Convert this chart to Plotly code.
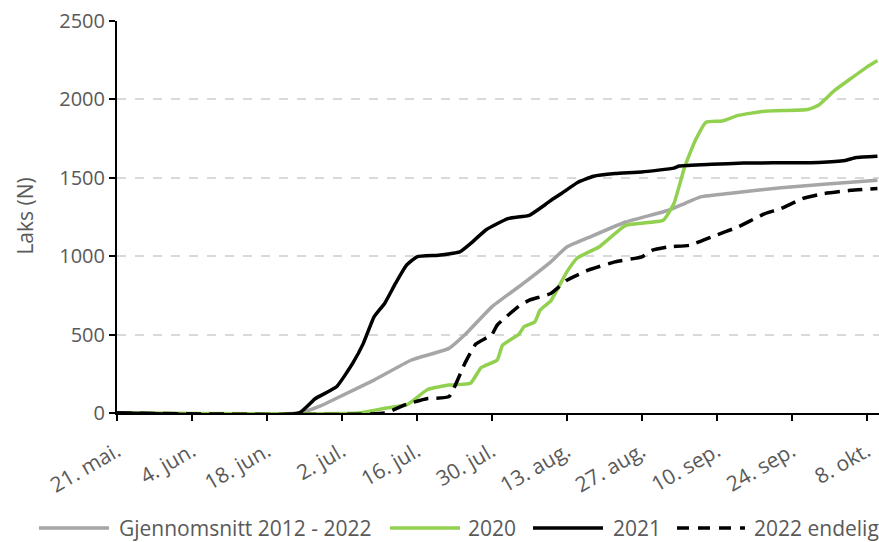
import plotly.graph_objects as go

# Average 2012-2022
avg_dates = ["2022-05-21", "2022-06-24", "2022-06-28", "2022-07-01", "2022-07-08", "2022-07-15",
             "2022-07-22", "2022-07-25", "2022-07-30", "2022-08-05", "2022-08-10", "2022-08-13",
             "2022-08-17", "2022-08-24", "2022-09-01", "2022-09-04", "2022-09-07", "2022-09-13",
             "2022-09-22", "2022-09-30", "2022-10-10"]
avg_vals = [0, 0, 45, 94, 210, 338, 412, 500, 677, 830, 964, 1059, 1118, 1218, 1293, 1336, 1378,
            1403, 1437, 1459, 1484]

# 2020
y2020_dates = ["2022-05-21", "2022-07-05", "2022-07-10", "2022-07-14", "2022-07-15", "2022-07-18",
               "2022-07-22", "2022-07-26", "2022-07-28", "2022-07-31", "2022-08-01", "2022-08-04",
               "2022-08-05", "2022-08-07", "2022-08-08", "2022-08-10", "2022-08-13", "2022-08-15",
               "2022-08-19", "2022-08-24", "2022-08-31", "2022-09-02", "2022-09-04", "2022-09-06",
               "2022-09-08", "2022-09-11", "2022-09-14", "2022-09-19", "2022-09-27", "2022-09-29",
               "2022-10-02", "2022-10-05", "2022-10-08", "2022-10-10"]
y2020_vals = [0, 0, 30, 51, 72, 150, 178, 189, 290, 338, 433, 500, 550, 580, 656, 715, 900, 990,
              1059, 1197, 1229, 1336, 1569, 1739, 1855, 1862, 1898, 1925, 1936, 1962, 2057, 2132,
              2206, 2248]

# 2021
y2021_dates = ["2022-05-21", "2022-06-24", "2022-06-27", "2022-07-01", "2022-07-04", "2022-07-06",
               "2022-07-08", "2022-07-10", "2022-07-12", "2022-07-14", "2022-07-16", "2022-07-20",
               "2022-07-24", "2022-07-26", "2022-07-29", "2022-08-02", "2022-08-06", "2022-08-09",
               "2022-08-10", "2022-08-12", "2022-08-15", "2022-08-18", "2022-08-22", "2022-08-27",
               "2022-09-02", "2022-09-03", "2022-09-09", "2022-09-15", "2022-09-29", "2022-10-04",
               "2022-10-06", "2022-10-10"]
y2021_vals = [0, 0, 91, 167, 316, 444, 613, 700, 826, 940, 996, 1006, 1027, 1080, 1170, 1240, 1261,
              1330, 1355, 1400, 1470, 1510, 1527, 1537, 1562, 1575, 1586, 1594, 1598, 1611, 1629, 1637]

# 2022 final
y2022_dates = ["2022-05-21", "2022-07-10", "2022-07-14", "2022-07-18", "2022-07-22", "2022-07-25",
               "2022-07-27", "2022-07-30", "2022-07-31", "2022-08-04", "2022-08-06", "2022-08-10",
               "2022-08-13", "2022-08-17", "2022-08-22", "2022-08-27", "2022-08-29", "2022-09-01",
               "2022-09-05", "2022-09-09", "2022-09-14", "2022-09-19", "2022-09-22", "2022-09-26",
               "2022-09-30", "2022-10-05", "2022-10-10"]
y2022_vals = [0, 0, 55, 92, 104, 320, 440, 500, 561, 680, 720, 762, 847, 911, 964, 996, 1038, 1059,
              1070, 1123, 1187, 1272, 1304, 1367, 1399, 1420, 1431]

tick_dates = ["2022-05-21", "2022-06-04", "2022-06-18", "2022-07-02", "2022-07-16", "2022-07-30",
              "2022-08-13", "2022-08-27", "2022-09-10", "2022-09-24", "2022-10-08"]
tick_labels = ["21. mai.", "4. jun.", "18. jun.", "2. jul.", "16. jul.", "30. jul.", "13. aug.",
               "27. aug.", "10. sep.", "24. sep.", "8. okt."]
y_ticks = [0, 500, 1000, 1500, 2000, 2500]

series_names = ["Gjennomsnitt 2012 - 2022", "2020", "2021", "2022 endelig"]
series_colors = ["#a6a6a6", "#92d050", "#000000", "#000000"]
series_dash = ["solid", "solid", "solid", "15px,8px"]

FONT = "Open Sans"
TXT = "#595959"
LW = 3.5

data = [(avg_dates, avg_vals), (y2020_dates, y2020_vals), (y2021_dates, y2021_vals),
        (y2022_dates, y2022_vals)]

fig = go.Figure()
for (xs, ys), name, col, dash in zip(data, series_names, series_colors, series_dash):
    fig.add_trace(go.Scatter(x=xs, y=ys, mode="lines", name=name, showlegend=False,
                             line=dict(color=col, width=LW, dash=dash, shape="spline",
                                       smoothing=0.4)))

# Custom legend row below the plot (Excel-style long line samples)
leg_y = -0.2934
leg_line_x = [(-0.1024, -0.0105), (0.3583, 0.4501), (0.5459, 0.6378), (0.7349, 0.8241)]
leg_text_x = [0.0, 0.458, 0.6483, 0.8333]
for (x0, x1), tx, name, col, dash in zip(leg_line_x, leg_text_x, series_names, series_colors,
                                         series_dash):
    fig.add_shape(type="line", xref="paper", yref="paper", x0=x0, x1=x1, y0=leg_y, y1=leg_y,
                  line=dict(color=col, width=LW, dash="12px,9px" if dash != "solid" else "solid"))
    fig.add_annotation(text=name, xref="paper", yref="paper", x=tx, y=leg_y, showarrow=False,
                       xanchor="left", yanchor="middle", font=dict(size=21, color=TXT))

fig.add_annotation(text="Laks (N)", xref="paper", yref="paper", x=-0.121, y=0.503,
                   textangle=-90, showarrow=False, font=dict(size=21, color=TXT),
                   xanchor="center", yanchor="middle")

fig.update_layout(
    width=879, height=542,
    margin=dict(l=117, r=0, t=21, b=129, autoexpand=False),
    paper_bgcolor="white", plot_bgcolor="white",
    font=dict(family=FONT, color=TXT, size=19),
    showlegend=False,
    xaxis=dict(type="date", range=["2022-05-21", "2022-10-10 07:00"], automargin=False,
               tickvals=tick_dates, ticktext=tick_labels, tickangle=-30,
               tickfont=dict(size=21, color=TXT), ticklabelstandoff=10,
               showgrid=False, showline=True, linecolor="black", linewidth=2,
               ticks="outside", ticklen=6, tickcolor="black", tickwidth=2, zeroline=False),
    yaxis=dict(range=[0, 2500], tickvals=y_ticks, automargin=False,
               tickfont=dict(size=20, color=TXT),
               showgrid=True, gridcolor="#d9d9d9", griddash="dash", gridwidth=1.5,
               showline=True, linecolor="black", linewidth=2,
               ticks="outside", ticklen=6, tickcolor="black", tickwidth=2, zeroline=False),
)

fig.write_html("out.html", config={"displayModeBar": False},
               post_script="document.body.style.margin='0';document.body.style.overflow='hidden';")
